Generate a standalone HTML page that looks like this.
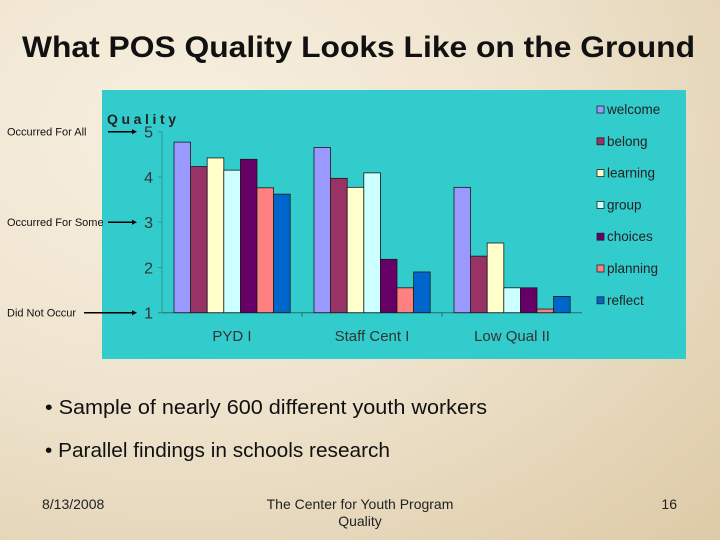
<!DOCTYPE html>
<html><head><meta charset="utf-8"><style>
body{margin:0;width:720px;height:540px;overflow:hidden;font-family:"Liberation Sans",sans-serif}
#slide{position:relative;width:720px;height:540px;background:radial-gradient(ellipse at 25% 25%,#f7efdf 0%,#efe4cf 45%,#ddcaa6 100%)}
</style></head><body>
<div id="slide">
<svg width="720" height="540" style="position:absolute;left:0;top:0">
<text x="22" y="57" textLength="673" lengthAdjust="spacingAndGlyphs" font-size="30" font-weight="bold" fill="#111">What POS Quality Looks Like on the Ground</text>
<rect x="102" y="90" width="584" height="269" fill="#33CCCC"/>
<g id="chart"></g>
<text x="45" y="414" font-size="20" textLength="442" lengthAdjust="spacingAndGlyphs" fill="#111">• Sample of nearly 600 different youth workers</text>
<text x="45" y="457" font-size="20" textLength="345" lengthAdjust="spacingAndGlyphs" fill="#111">• Parallel findings in schools research</text>
<text x="42" y="509" font-size="14" fill="#222">8/13/2008</text>
<text x="360" y="509" font-size="14" fill="#222" text-anchor="middle">The Center for Youth Program</text>
<text x="360" y="526" font-size="14" fill="#222" text-anchor="middle">Quality</text>
<text x="677" y="509" font-size="14" fill="#222" text-anchor="end">16</text>
</svg>
</div>
<script>
const categories=["PYD I","Staff Cent I","Low Qual II"];
const seriesNames=["welcome","belong","learning","group","choices","planning","reflect"];
const seriesColors=["#9999FF","#993366","#FFFFCC","#CCFFFF","#660066","#FF8080","#0066CC"];
const welcome=[4.77,4.65,3.77];
const belong=[4.23,3.97,2.25];
const learning=[4.42,3.77,2.54];
const group=[4.15,4.09,1.55];
const choices=[4.39,2.18,1.55];
const planning=[3.76,1.55,1.08];
const reflect=[3.62,1.90,1.36];
const yTicks=[1,2,3,4,5];
const annotations=[["Occurred For All",5],["Occurred For Some",3],["Did Not Occur",1]];
const series=[welcome,belong,learning,group,choices,planning,reflect];
const NS="http://www.w3.org/2000/svg";
const g=document.getElementById("chart");
const x0=162,x1=582,yB=312.7,yT=131.7;
const y=v=>yB-(v-1)*(yB-yT)/4;
const gw=(x1-x0)/categories.length, bw=16.6, pad=12;
function mk(t,a){const e=document.createElementNS(NS,t);for(const k in a)e.setAttribute(k,a[k]);g.appendChild(e);return e;}
let e;
e=mk("line",{x1:x0,y1:yT,x2:x0,y2:yB,stroke:"#2a9a9a"});


e=mk("line",{x1:x0-4,y1:yB,x2:x1,y2:yB,stroke:"#226f6f"});


yTicks.forEach(t=>{
 e=mk("text",{x:x0-9,y:y(t)+6,"text-anchor":"end","font-size":16,fill:"#333"});e.textContent=t;
 
 
 mk("line",{x1:x0-4,y1:y(t),x2:x0,y2:y(t),stroke:"#2a9a9a"});
});
e=mk("text",{x:107,y:124,"font-size":14,"font-weight":"bold","letter-spacing":"3.6",fill:"#222"});e.textContent="Quality";


annotations.forEach(([txt,v])=>{
 e=mk("text",{x:7,y:y(v)+4,"font-size":11,fill:"#111"});e.textContent=txt;
 
 
 const sx=txt.length>15?108:(txt==="Did Not Occur"?84:96);
 mk("line",{x1:sx,y1:y(v),x2:133,y2:y(v),stroke:"#000","stroke-width":1.5});
 mk("polygon",{points:`137,${y(v)} 132,${y(v)-2.5} 132,${y(v)+2.5}`,fill:"#000"});
});
categories.forEach((c,i)=>{
 const gx=x0+i*gw;
 if(i>0)mk("line",{x1:gx,y1:yB,x2:gx,y2:yB+4,stroke:"#226f6f"});
 series.forEach((s,j)=>{
  const top=y(s[i]);
  e=mk("rect",{x:gx+pad+j*bw,y:top,width:bw,height:yB-top,fill:seriesColors[j],stroke:"#1a1a1a","stroke-width":0.8});
  
  
 });
 e=mk("text",{x:gx+gw/2,y:341,"text-anchor":"middle","font-size":15,fill:"#333"});e.textContent=c;
 
 
});
seriesNames.forEach((n,j)=>{
 const ly=110+j*31.8;
 e=mk("rect",{x:597,y:ly-4,width:7,height:7,fill:seriesColors[j],stroke:"#222","stroke-width":0.8});
 
 
 e=mk("text",{x:607,y:ly+4,"font-size":13.5,fill:"#222"});e.textContent=n;
 
 
});
</script>
</body></html>
